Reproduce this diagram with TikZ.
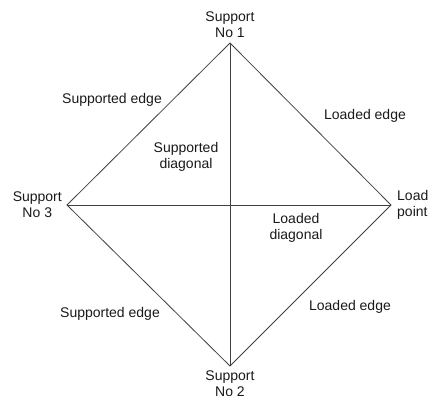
\documentclass[tikz,border=0pt]{standalone}
\usepackage{fontspec}
\setmainfont{Liberation Sans}
\usetikzlibrary{positioning}
\colorlet{edgegray}{black!75}

\begin{document}
\begin{tikzpicture}
  [x=1pt, y=-1pt,
  plate/.style={draw=edgegray, line width=0.8pt},
  caption/.style={
    text=black!90,
    inner sep=0pt,
    align=center,
    font=\fontsize{14}{16}\selectfont
    }
  ]
  \useasboundingbox (0,0) rectangle (430,404);

  % corners of the plate
  \coordinate (supportone) at (230,43);
  \coordinate (supporttwo) at (230,366);
  \coordinate (supportthree) at (67,205);
  \coordinate (loadpoint) at (391,205);
  \coordinate (centre) at (230,205);

  \node [caption, above=5pt of supportone] (supportonetitle) {Support\\No 1};
  \node [caption, below=5pt of supporttwo] (supporttwotitle) {Support\\No 2};
  \node [caption, left=5pt of supportthree] (supportthreetitle) {Support\\No 3};
  \node [caption, right=6pt of loadpoint, align=left] (loadpointtitle) {Load\\point};

  \draw[plate] (supportone) -- (loadpoint) -- (supporttwo) -- (supportthree) -- cycle;
  \draw[plate] (supportone) -- (supporttwo);
  \draw[plate] (supportthree) -- (loadpoint);

  \node [caption] (supportededgeup) at (112,100) {Supported edge};
  \node [caption] (supportededgedown) at (110,314) {Supported edge};
  \node [caption] (loadededgeup) at (365,116) {Loaded edge};
  \node [caption] (loadededgedown) at (350,307) {Loaded edge};
  \node [caption] (supporteddiagonal) at (186,157) {Supported\\diagonal};
  \node [caption] (loadeddiagonal) at (296,228) {Loaded\\diagonal};
\end{tikzpicture}
\end{document}
